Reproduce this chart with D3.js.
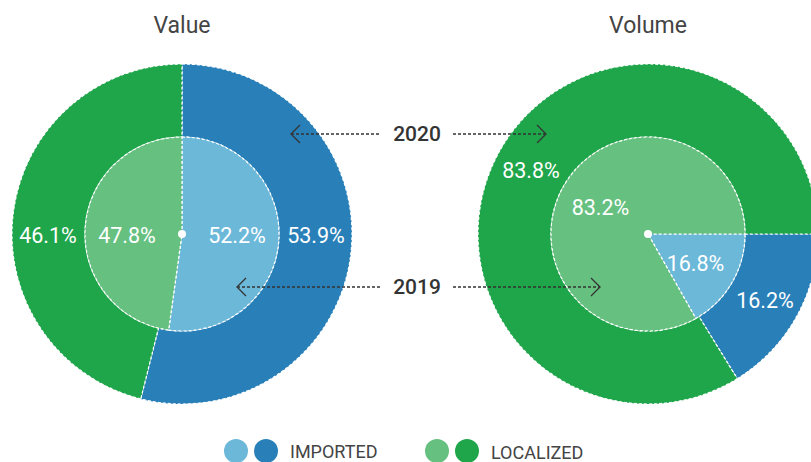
<!DOCTYPE html>
<html>
<head>
<meta charset="utf-8">
<script src="https://cdn.jsdelivr.net/npm/d3@7"></script>
<style>
  body { margin: 0; background: #fff; }
  svg { display: block; font-family: Roboto, "Noto Sans", sans-serif; }
</style>
</head>
<body>
<div id="chart"></div>
<script>
// data
var categories = ["IMPORTED", "LOCALIZED"];
var chartTitles = ["Value", "Volume"];
var years = ["2020", "2019"];
var value2020 = [53.9, 46.1];
var value2019 = [52.2, 47.8];
var volume2020 = [16.2, 83.8];
var volume2019 = [16.8, 83.2];

var width = 811, height = 462;
var outerR = 170, innerR = 97;
var colors = {
    "IMPORTED": {"2020": "#2980b9", "2019": "#6cb8d9"},
    "LOCALIZED": {"2020": "#1fa64b", "2019": "#66c07f"}
};

var svg = d3.select("#chart").append("svg")
    .attr("width", width)
    .attr("height", height);

var x = d3.scalePoint().domain(chartTitles).range([182, 648]);
var cy = 234;

var charts = [
    {title: "Value", outer: value2020, inner: value2019, start: 0, flat: true},
    {title: "Volume", outer: volume2020, inner: volume2019, start: Math.PI / 2, flat: false}
];

charts.forEach(function(c) {
    var cx = x(c.title);
    var g = svg.append("g").attr("transform", "translate(" + cx + "," + cy + ")");

    var pie = d3.pie().sort(null).value(function(d) { return d; })
        .startAngle(c.start).endAngle(c.start + 2 * Math.PI);

    var rings = [
        {year: "2020", data: c.outer, arc: d3.arc().innerRadius(innerR).outerRadius(outerR), lr: 134},
        {year: "2019", data: c.inner, arc: d3.arc().innerRadius(0).outerRadius(innerR), lr: 55}
    ];

    rings.forEach(function(ring) {
        var arcs = pie(ring.data);
        g.selectAll(null)
            .data(arcs)
            .enter()
            .append("path")
            .attr("d", ring.arc)
            .attr("fill", function(d, i) { return colors[categories[i]][ring.year]; })
            .attr("stroke", "#fff")
            .attr("stroke-width", 1.2)
            .attr("stroke-dasharray", "3,2");

        g.selectAll(null)
            .data(arcs)
            .enter()
            .append("text")
            .attr("transform", function(d) {
                var a = (d.startAngle + d.endAngle) / 2;
                if (c.flat) {
                    a = Math.sin(a) >= 0 ? Math.PI / 2 : 3 * Math.PI / 2;
                }
                return "translate(" + (ring.lr * Math.sin(a)) + "," + (-ring.lr * Math.cos(a) + 1.5) + ")";
            })
            .attr("text-anchor", "middle")
            .attr("dominant-baseline", "central")
            .attr("fill", "#fff")
            .style("font-size", "21.5px")
            .text(function(d) { return d.data.toFixed(1) + "%"; });
    });

    g.append("circle").attr("r", 4).attr("fill", "#fff");

    svg.append("text")
        .attr("x", cx)
        .attr("y", 33)
        .attr("text-anchor", "middle")
        .attr("fill", "#444")
        .style("font-size", "23px")
        .text(c.title);
});

// year annotations with dotted arrows
var yearRows = [
    {year: years[0], y: 134, left: 291, right: 546},
    {year: years[1], y: 287, left: 237, right: 600}
];
var midX = 417;

yearRows.forEach(function(r) {
    var a = svg.append("g").attr("stroke", "#333").attr("fill", "none").attr("stroke-width", 1.3);
    a.append("line")
        .attr("x1", r.left).attr("x2", 381)
        .attr("y1", r.y).attr("y2", r.y)
        .attr("stroke-dasharray", "3,2");
    a.append("line")
        .attr("x1", 453).attr("x2", r.right)
        .attr("y1", r.y).attr("y2", r.y)
        .attr("stroke-dasharray", "3,2");
    a.append("path")
        .attr("d", "M" + (r.left + 9) + "," + (r.y - 9) + "L" + r.left + "," + r.y + "L" + (r.left + 9) + "," + (r.y + 9));
    a.append("path")
        .attr("d", "M" + (r.right - 9) + "," + (r.y - 9) + "L" + r.right + "," + r.y + "L" + (r.right - 9) + "," + (r.y + 9));

    svg.append("text")
        .attr("x", midX)
        .attr("y", r.y)
        .attr("text-anchor", "middle")
        .attr("dominant-baseline", "central")
        .attr("fill", "#333")
        .style("font-size", "21px")
        .style("font-weight", 500)
        .text(r.year);
});

// legend
var legend = [
    {name: categories[0], x: 236, y: 451, ty: 451.5},
    {name: categories[1], x: 437, y: 451, ty: 452.5}
];
legend.forEach(function(l) {
    svg.append("circle").attr("cx", l.x).attr("cy", l.y).attr("r", 12)
        .attr("fill", colors[l.name]["2019"]);
    svg.append("circle").attr("cx", l.x + 30).attr("cy", l.y).attr("r", 12)
        .attr("fill", colors[l.name]["2020"]);
    svg.append("text")
        .attr("x", l.x + 54)
        .attr("y", l.ty)
        .attr("dominant-baseline", "central")
        .attr("fill", "#444")
        .style("font-size", "18px")
        .text(l.name);
});
</script>
</body>
</html>
